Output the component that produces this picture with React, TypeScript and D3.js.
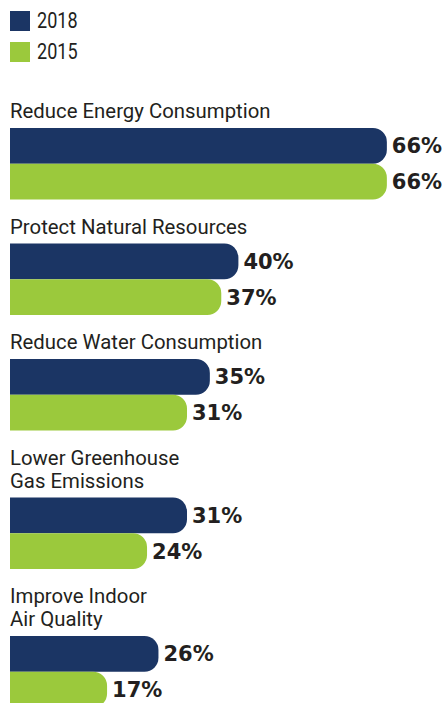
import React, { useEffect, useRef } from "react";
import * as d3 from "d3";

const categories = [
  ["Reduce Energy Consumption"],
  ["Protect Natural Resources"],
  ["Reduce Water Consumption"],
  ["Lower Greenhouse", "Gas Emissions"],
  ["Improve Indoor", "Air Quality"],
];
const years = ["2018", "2015"];
const values2018 = [66, 40, 35, 31, 26];
const values2015 = [66, 37, 31, 24, 17];

const colors = ["#1b3564", "#9bc93c"];
const textColor = "#231f20";

const width = 443;
const height = 703;
const pairHeight = 71.5;

// bar with square left end and rounded right end
const barPath = (x0, x1, y0, h, r) => {
  const p = d3.path();
  const rr = Math.min(r, (x1 - x0), h / 2);
  p.moveTo(x0, y0);
  p.lineTo(x1 - rr, y0);
  p.arcTo(x1, y0, x1, y0 + rr, rr);
  p.lineTo(x1, y0 + h - rr);
  p.arcTo(x1, y0 + h, x1 - rr, y0 + h, rr);
  p.lineTo(x0, y0 + h);
  p.closePath();
  return p.toString();
};

const App = () => {
  const ref = useRef(null);

  useEffect(() => {
    document.body.style.margin = "0";
    d3.select(ref.current).select("svg").remove();

    const svg = d3
      .select(ref.current)
      .append("svg")
      .attr("width", width)
      .attr("height", height)
      .style("display", "block");

    const x = d3.scaleLinear().domain([0, 100]).range([10, 581]);
    const band = d3.scaleBand().domain(years).range([0, pairHeight]).padding(0);
    const color = d3.scaleOrdinal(years, colors);

    // legend
    const legend = svg
      .selectAll("g.legend")
      .data(years)
      .enter()
      .append("g")
      .attr("transform", (d, i) => `translate(10, ${11 + i * 31})`);
    legend.append("rect").attr("width", 20).attr("height", 20).attr("fill", (d) => color(d));
    legend
      .append("text")
      .attr("transform", "translate(27, 17) scale(0.82, 1)")
      .style("font-family", "Roboto, sans-serif")
      .style("font-size", "22px")
      .attr("fill", textColor)
      .text((d) => d);

    // groups
    let cursor = 84;
    categories.forEach((lines, i) => {
      const g = svg.append("g");
      const firstBase = cursor + 34;
      lines.forEach((line, j) => {
        g.append("text")
          .attr("transform", `translate(10, ${firstBase + j * 23}) scale(0.97, 1)`)
          .style("font-family", "Roboto, sans-serif")
          .style("font-size", "21px")
          .attr("fill", textColor)
          .text(line);
      });
      const barTop = firstBase + (lines.length - 1) * 23 + 10;
      const rows = [
        { year: "2018", value: values2018[i] },
        { year: "2015", value: values2015[i] },
      ];
      g.selectAll("path")
        .data(rows)
        .enter()
        .append("path")
        .attr("d", (d) => barPath(x(0), x(d.value), barTop + band(d.year), band.bandwidth(), 14))
        .attr("fill", (d) => color(d.year));
      g.selectAll("text.val")
        .data(rows)
        .enter()
        .append("text")
        .attr("class", "val")
        .attr("x", (d) => x(d.value) + 5)
        .attr("y", (d) => barTop + band(d.year) + band.bandwidth() / 2)
        .attr("dy", "0.36em")
        .style("font-family", "'DejaVu Sans', sans-serif")
        .style("font-weight", "bold")
        .style("font-size", "21px")
        .attr("fill", textColor)
        .text((d) => `${d.value}%`);
      cursor = barTop + pairHeight;
    });
  }, []);

  return <div ref={ref}></div>;
};

export default App;
